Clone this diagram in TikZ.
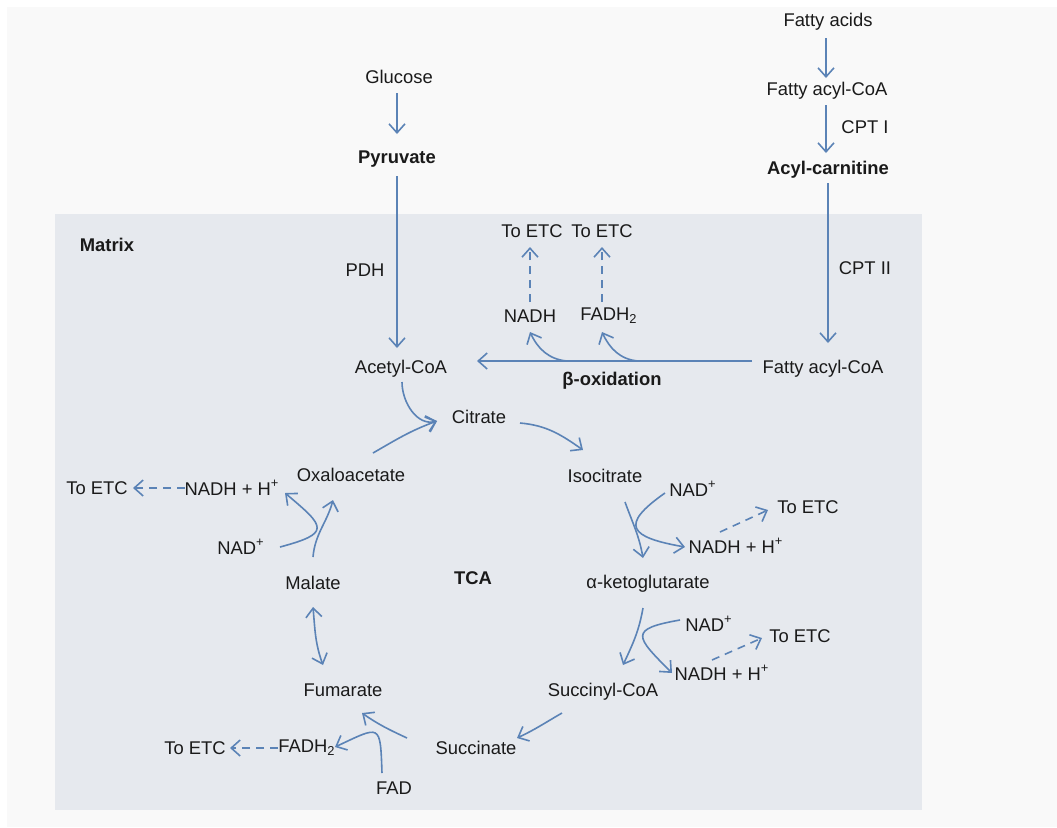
\documentclass[tikz,border=0pt]{standalone}
\usepackage{fontspec}
\setmainfont{Liberation Sans}
\usepackage{tikz}
\usetikzlibrary{arrows.meta,positioning,calc}
\definecolor{flowblue}{HTML}{5B83B6}
\definecolor{matrixbg}{HTML}{E6E9EE}
\definecolor{pagebg}{HTML}{F9F9F9}
\definecolor{ink}{HTML}{1A1A1A}
\tikzset{
  metabox/.style={
    inner sep=0pt, text=ink,
    font=\fontsize{9.2}{11}\selectfont
  },
  keybox/.style={
    metabox, font=\fontsize{9.2}{11}\selectfont\bfseries
  },
  flowarrow/.style={
    -{Straight Barb[length=4.5pt,width=8pt]}, line width=0.8pt, color=flowblue
  },
  bothflow/.style={
    flowarrow, {Straight Barb[length=4.5pt,width=8pt]}-{Straight Barb[length=4.5pt,width=8pt]}
  },
  etcarrow/.style={
    flowarrow, dash pattern=on 4pt off 3pt
  },
}
\begin{document}
\begin{tikzpicture}[x=0.5pt, y=-0.5pt]
  % page and matrix
  \fill[white] (0,0) rectangle (1057,827);
  \fill[pagebg] (7,7) rectangle (1057,827);
  \fill[matrixbg] (55,214) rectangle (922,810);
  \node[keybox] (matrix) at (107,245) {Matrix};
  \node[keybox] (tca) at (473,578) {TCA};

  % glucose branch
  \node[metabox] (glucose) at (399,77) {Glucose};
  \node[keybox] (pyruvate) at (397,159) {Pyruvate};
  \node[metabox] (acetyl) at (401,369) {Acetyl-CoA};
  \node[metabox] (pdh) at (365,270) {PDH};
  \draw[flowarrow] ($(glucose)+(-2,16)$) -- ($(pyruvate)+(0,-25)$);
  \draw[flowarrow] ($(pyruvate)+(0,17)$) -- ($(acetyl)+(-4,-21)$);

  % fatty acid branch
  \node[metabox] (fatacid) at (828,22) {Fatty acids};
  \node[metabox] (facoaout) at (827,91) {Fatty acyl-CoA};
  \node[keybox] (acylcarn) at (828,170) {Acyl-carnitine};
  \node[metabox] (facoain) at (823,369) {Fatty acyl-CoA};
  \node[metabox] (cpt1) at (865,127) {CPT I};
  \node[metabox] (cpt2) at (865,268) {CPT II};
  \draw[flowarrow] ($(fatacid)+(-2,16)$) -- ($(facoaout)+(-1,-13)$);
  \draw[flowarrow] ($(facoaout)+(-1,14)$) -- ($(acylcarn)+(-2,-17)$);
  \draw[flowarrow] ($(acylcarn)+(0,13)$) -- ($(facoain)+(5,-26)$);

  % beta-oxidation
  \node[keybox] (betaox) at (612,381) {β-oxidation};
  \node[metabox] (nadhb) at (530,316) {NADH};
  \node[metabox] (fadhb) at (609,316) {FADH\textsubscript{2}};
  \node[metabox] (etc1) at (532,231) {To ETC};
  \node[metabox] (etc2) at (602,231) {To ETC};
  \coordinate (bnadh) at (567,361);
  \coordinate (bfadh) at (638,361);
  \draw[flowarrow] ($(facoain)+(-71,-8)$) -- ($(acetyl)+(76,-8)$);
  \draw[flowarrow] (bnadh) to[out=175, in=-65] ($(nadhb)+(0,16)$);
  \draw[flowarrow] (bfadh) to[out=175, in=-65] ($(fadhb)+(-7,16)$);
  \draw[etcarrow] ($(nadhb)+(0,-14)$) -- ($(etc1)+(-2,16)$);
  \draw[etcarrow] ($(fadhb)+(-7,-14)$) -- ($(etc2)+(0,16)$);

  % TCA cycle
  \node[metabox] (citrate) at (479,417) {Citrate};
  \node[metabox] (isocit) at (605,476) {Isocitrate};
  \node[metabox] (akg) at (648,584) {α-ketoglutarate};
  \node[metabox] (succoa) at (603,692) {Succinyl-CoA};
  \node[metabox] (succ) at (476,748) {Succinate};
  \node[metabox] (fum) at (343,690) {Fumarate};
  \node[metabox] (malate) at (313,583) {Malate};
  \node[metabox] (oxalo) at (351,475) {Oxaloacetate};

  \node[metabox] (nadiso) at (693,489) {NAD\textsuperscript{+}};
  \node[metabox] (nadhiso) at (736,546) {NADH + H\textsuperscript{+}};
  \node[metabox] (etc3) at (808,507) {To ETC};
  \node[metabox] (nadakg) at (709,624) {NAD\textsuperscript{+}};
  \node[metabox] (nadhakg) at (722,673) {NADH + H\textsuperscript{+}};
  \node[metabox] (etc4) at (800,636) {To ETC};
  \node[metabox] (fad) at (394,788) {FAD};
  \node[metabox] (fadh) at (307,748) {FADH\textsubscript{2}};
  \node[metabox] (etc5) at (195,748) {To ETC};
  \node[metabox] (nadmal) at (241,547) {NAD\textsuperscript{+}};
  \node[metabox] (nadhmal) at (232,488) {NADH + H\textsuperscript{+}};
  \node[metabox] (etc6) at (97,488) {To ETC};

  \draw[flowarrow] ($(acetyl)+(1,13)$) to[out=-90, in=195] ($(citrate)+(-42,4)$);
  \draw[flowarrow] ($(oxalo)+(22,-22)$) to[out=30, in=200] ($(citrate)+(-42,4)$);
  \draw[flowarrow] ($(citrate)+(41,6)$) to[out=-5, in=145] ($(isocit)+(-22,-26)$);
  \draw[flowarrow] ($(isocit)+(20,26)$) to[out=-70, in=100] ($(akg)+(-5,-26)$);
  \draw[flowarrow] ($(nadiso)+(-28,4)$) to[out=215, in=170, looseness=2.5] ($(nadhiso)+(-51,1)$);
  \draw[etcarrow] ($(nadhiso)+(-16,-14)$) -- ($(etc3)+(-40,3)$);
  \draw[flowarrow] ($(akg)+(-5,24)$) to[out=-100, in=65] ($(succoa)+(20,-27)$);
  \draw[flowarrow] ($(nadakg)+(-29,-4)$) to[out=190, in=135, looseness=2.5] ($(nadhakg)+(-50,0)$);
  \draw[etcarrow] ($(nadhakg)+(-10,-13)$) -- ($(etc4)+(-38,2)$);
  \draw[flowarrow] ($(succoa)+(-41,21)$) to[out=210, in=25] ($(succ)+(41,-10)$);
  \draw[flowarrow] ($(succ)+(-69,-10)$) to[out=155, in=-35] ($(fum)+(19,23)$);
  \draw[flowarrow] ($(fad)+(-12,-15)$) to[out=92, in=25, looseness=2.4] ($(fadh)+(28,-1)$);
  \draw[etcarrow] ($(fadh)+(-29,0)$) -- ($(etc5)+(35,0)$);
  \draw[bothflow] ($(malate)+(0,24)$) to[out=-85, in=110] ($(fum)+(-20,-25)$);
  \draw[flowarrow] ($(malate)+(0,-26)$) to[out=85, in=-105] ($(oxalo)+(-18,25)$);
  \draw[flowarrow] ($(nadmal)+(39,0)$) to[out=15, in=-40, looseness=2.5] ($(nadhmal)+(53,5)$);
  \draw[etcarrow] ($(nadhmal)+(-47,0)$) -- ($(etc6)+(36,0)$);
\end{tikzpicture}
\end{document}
